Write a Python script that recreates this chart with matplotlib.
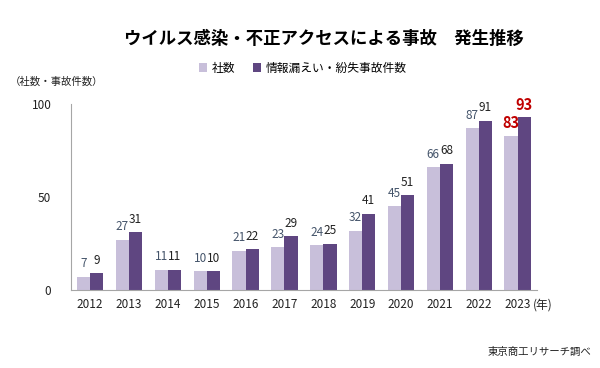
import matplotlib
matplotlib.use("Agg")
import matplotlib.pyplot as plt
import numpy as np

plt.rcParams['font.family'] = ['Noto Sans CJK JP', 'DejaVu Sans']

# data
years = ["2012", "2013", "2014", "2015", "2016", "2017",
         "2018", "2019", "2020", "2021", "2022", "2023"]
companies = [7, 27, 11, 10, 21, 23, 24, 32, 45, 66, 87, 83]
incidents = [9, 31, 11, 10, 22, 29, 25, 41, 51, 68, 91, 93]
legend_labels = ["社数", "情報漏えい・紛失事故件数"]
y_ticks = [0, 50, 100]

light = "#c8bfda"
dark = "#5f4681"
light_txt = "#44546a"
dark_txt = "#222222"
red = "#c00000"

fig = plt.figure(figsize=(6, 3.68), dpi=100)
ax = fig.add_axes([0.118, 0.212, 0.777, 0.505])

x = np.arange(len(years))
w = 0.34
b1 = ax.bar(x - w / 2, companies, w, color=light, label=legend_labels[0])
b2 = ax.bar(x + w / 2, incidents, w, color=dark, label=legend_labels[1])

last = len(years) - 1
for i, v in enumerate(companies):
    if i == last:
        ax.text(x[i] - w / 2, v + 2.5, str(v), ha="center", va="bottom",
                fontsize=10.5, color=red, fontweight="bold", clip_on=False)
    else:
        ax.text(x[i] - w / 2, v + 3.5, str(v), ha="center", va="bottom",
                fontsize=8.5, color=light_txt, clip_on=False)
for i, v in enumerate(incidents):
    if i == last:
        ax.text(x[i] + w / 2, v + 2.5, str(v), ha="center", va="bottom",
                fontsize=10.5, color=red, fontweight="bold", clip_on=False)
    else:
        ax.text(x[i] + w / 2, v + 3.5, str(v), ha="center", va="bottom",
                fontsize=8.5, color=dark_txt, clip_on=False)

ax.set_xlim(-0.5, len(years) - 0.5)
ax.set_ylim(0, 100)
ax.set_yticks(y_ticks)
ax.set_xticks(x)
ax.set_xticklabels(years)
ax.tick_params(length=0, labelsize=8.5, colors="#222222")
ax.tick_params(axis="x", pad=6)
ax.tick_params(axis="y", pad=14)
for s in ["top", "right"]:
    ax.spines[s].set_visible(False)
for s in ["left", "bottom"]:
    ax.spines[s].set_color("#a6a6a6")
    ax.spines[s].set_linewidth(0.8)

# "(年)" after the last year label, on the tick-label line
ax.annotate("(年)", xy=(last + 0.4, 0), xycoords=("data", "axes fraction"),
            xytext=(0, -6), textcoords="offset points", ha="left", va="top",
            fontsize=8.5, color="#222222", annotation_clip=False)

fig.text(0.54, 0.895, "ウイルス感染・不正アクセスによる事故　発生推移",
         ha="center", va="center", fontsize=12.5, fontweight="bold")
fig.text(0.017, 0.778, "（社数・事故件数）", ha="left", va="center",
         fontsize=7.5, color="#222222")
fig.text(0.985, 0.045, "東京商工リサーチ調べ", ha="right", va="center",
         fontsize=7.5, color="#222222")

fig.legend(handles=[b1, b2], loc="center", bbox_to_anchor=(0.505, 0.815),
           ncol=2, frameon=False, fontsize=8.5, handlelength=0.7,
           handleheight=0.7, handletextpad=0.4, columnspacing=1.5)

fig.savefig("out.png", dpi=100)
